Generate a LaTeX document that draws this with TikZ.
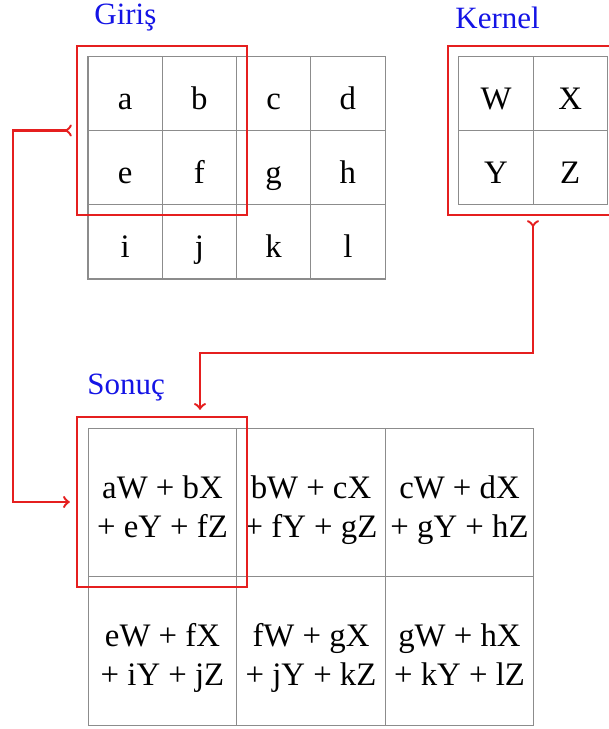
\documentclass[tikz,border=0pt]{standalone}
\usepackage{fontspec}
\setmainfont{Liberation Serif}
\usetikzlibrary{arrows}

\newlength{\du}
\setlength{\du}{0.5pt}

\definecolor{gridcolor}{rgb}{0.55, 0.55, 0.55}
\definecolor{framecolor}{rgb}{0.90, 0.12, 0.12}
\definecolor{labelcolor}{rgb}{0.08, 0.08, 0.90}

\tikzset{
  cell/.style={draw=gridcolor, line width=0.55pt, inner sep=0pt,
    minimum width=74.3\du, minimum height=74.3\du,
    text height=18.5pt, text depth=2.5pt,
    font=\fontsize{16.4}{19.5}\selectfont},
  outcell/.style={draw=gridcolor, line width=0.55pt, inner sep=0pt,
    minimum width=148.5\du, minimum height=148.5\du, align=center,
    text height=37pt, text depth=2.5pt,
    font=\fontsize{16.4}{19.5}\selectfont},
  redframe/.style={draw=framecolor, line width=1.2pt, inner sep=0pt,
    minimum width=170\du, minimum height=169\du},
  lbl/.style={text=labelcolor, anchor=west, inner sep=0pt,
    font=\fontsize{15.5}{18}\selectfont},
  link/.style={draw=framecolor, line width=1.2pt, >->,
    shorten <=2pt, shorten >=3pt}
}

\begin{document}
\begin{tikzpicture}
\pgftransformxscale{1.000000}
\pgftransformyscale{-1.000000}
\useasboundingbox (0\du,0\du) rectangle (609\du,729\du);

% setfont left to latex
\node[lbl] (giris) at (94\du,18\du){Giri\c{s}};
\node[lbl] (kernel) at (455\du,18\du){Kernel};
\node[lbl] (sonuc) at (87\du,388\du){Sonu\c{c}};

% input 4x3
\node[cell] (ga) at (125.1\du,93.2\du){a};
\node[cell] (gb) at (199.4\du,93.2\du){b};
\node[cell] (gc) at (273.6\du,93.2\du){c};
\node[cell] (gd) at (347.9\du,93.2\du){d};
\node[cell] (ge) at (125.1\du,167.5\du){e};
\node[cell] (gf) at (199.4\du,167.5\du){f};
\node[cell] (gg) at (273.6\du,167.5\du){g};
\node[cell] (gh) at (347.9\du,167.5\du){h};
\node[cell] (gi) at (125.1\du,241.8\du){i};
\node[cell] (gj) at (199.4\du,241.8\du){j};
\node[cell] (gk) at (273.6\du,241.8\du){k};
\node[cell] (gl) at (347.9\du,241.8\du){l};

% kernel 2x2
\node[cell] (kw) at (496\du,93.2\du){W};
\node[cell] (kx) at (570.2\du,93.2\du){X};
\node[cell] (ky) at (496\du,167.5\du){Y};
\node[cell] (kz) at (570.2\du,167.5\du){Z};

% output 3x2
\node[outcell] (s1) at (162.5\du,502.5\du){aW + bX\\+ eY + fZ};
\node[outcell] (s2) at (311\du,502.5\du){bW + cX\\+ fY + gZ};
\node[outcell] (s3) at (459.5\du,502.5\du){cW + dX\\+ gY + hZ};
\node[outcell] (s4) at (162.5\du,651\du){eW + fX\\+ iY + jZ};
\node[outcell] (s5) at (311\du,651\du){fW + gX\\+ jY + kZ};
\node[outcell] (s6) at (459.5\du,651\du){gW + hX\\+ kY + lZ};

% red frames
\node[redframe] (gbox) at (162\du,130.5\du){};
\node[redframe] (kbox) at (533\du,130.5\du){};
\node[redframe, minimum height=170\du] (sbox) at (162\du,502\du){};

% connectors
\coordinate (gbend) at (13\du,130.5\du);
\coordinate (kbend) at (200\du,353\du);
\draw[link] (gbox.west) -- (gbend) |- (sbox.west);
\draw[link] (kbox.south) |- (kbend) -- (kbend |- sbox.north);
\end{tikzpicture}
\end{document}
